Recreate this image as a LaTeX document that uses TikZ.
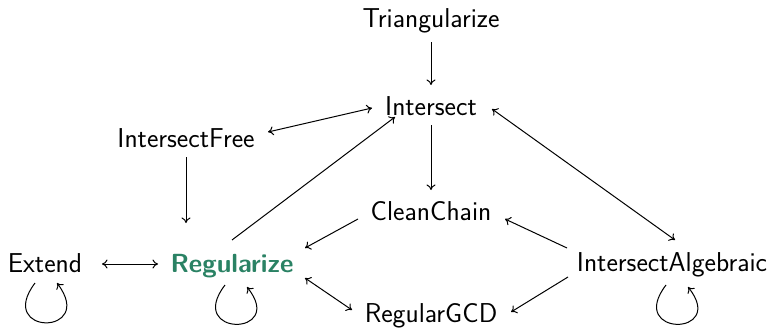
\documentclass[tikz,border=0pt]{standalone}
\usetikzlibrary{calc,arrows.meta}
\definecolor{regreen}{RGB}{42,130,100}
\begin{document}
\begin{tikzpicture}[x=1bp,y=1bp,
  lbl/.style={anchor=base,inner sep=0pt,font=\sffamily\fontsize{27.3bp}{32bp}\selectfont},
  conn/.style={line width=1bp,-{To[length=5.5bp,width=9bp]}},
  both/.style={line width=1bp,{To[length=5.5bp,width=9bp]}-{To[length=5.5bp,width=9bp]}}]
\useasboundingbox (0,0) rectangle (777,327);
\node[lbl] (tri) at (431,300) {Triangularize};
\node[lbl] (int) at (431,212) {Intersect};
\node[lbl] (ifree) at (186,180) {IntersectFree};
\node[lbl] (clean) at (431,107) {CleanChain};
\node[lbl] (ext) at (45,55) {Extend};
\node[lbl,text=regreen,font=\sffamily\bfseries\fontsize{26.2bp}{32bp}\selectfont] (reg) at (232,55) {Regularize};
\node[lbl] (ialg) at (672,56) {IntersectAlgebraic};
\node[lbl] (gcd) at (431,5) {RegularGCD};
% connectors
\draw[conn] ($(tri.base)+(0,-15)$) -- ($(int.base)+(0,30)$);
\draw[both] ($(ifree.base)+(82,15)$) -- ($(int.base)+(-59,7)$);
\draw[conn] ($(ifree.base)+(0,-10)$) -- ($(reg.base)+(-46,49)$);
\draw[conn] ($(reg.base)+(0,32)$) -- ($(int.base)+(-36,-2)$);
\draw[conn] ($(int.base)+(0,-10)$) -- ($(clean.base)+(0,30)$);
\draw[both] ($(int.base)+(61,6)$) -- ($(ialg.base)+(3,31)$);
\draw[conn] ($(clean.base)+(-73,1)$) -- ($(reg.base)+(73,24)$);
\draw[conn] ($(ialg.base)+(-105,23)$) -- ($(clean.base)+(74,1)$);
\draw[conn] ($(ialg.base)+(-104,-6)$) -- ($(gcd.base)+(80,10)$);
\draw[both] ($(reg.base)+(73,-6)$) -- ($(gcd.base)+(-79,12)$);
\draw[both] ($(ext.base)+(57,8)$) -- ($(reg.base)+(-74,8)$);
% self loops
\draw[conn] ($(ext.base)+(-10,-11)$) .. controls ($(ext.base)+(-50,-64)$) and ($(ext.base)+(52,-64)$) .. ($(ext.base)+(12,-11)$);
\draw[conn] ($(reg.base)+(-7,-13)$) .. controls ($(reg.base)+(-47,-65)$) and ($(reg.base)+(55,-65)$) .. ($(reg.base)+(15,-15)$);
\draw[conn] ($(ialg.base)+(-6,-14)$) .. controls ($(ialg.base)+(-46,-66)$) and ($(ialg.base)+(56,-66)$) .. ($(ialg.base)+(16,-16)$);
\end{tikzpicture}
\end{document}
